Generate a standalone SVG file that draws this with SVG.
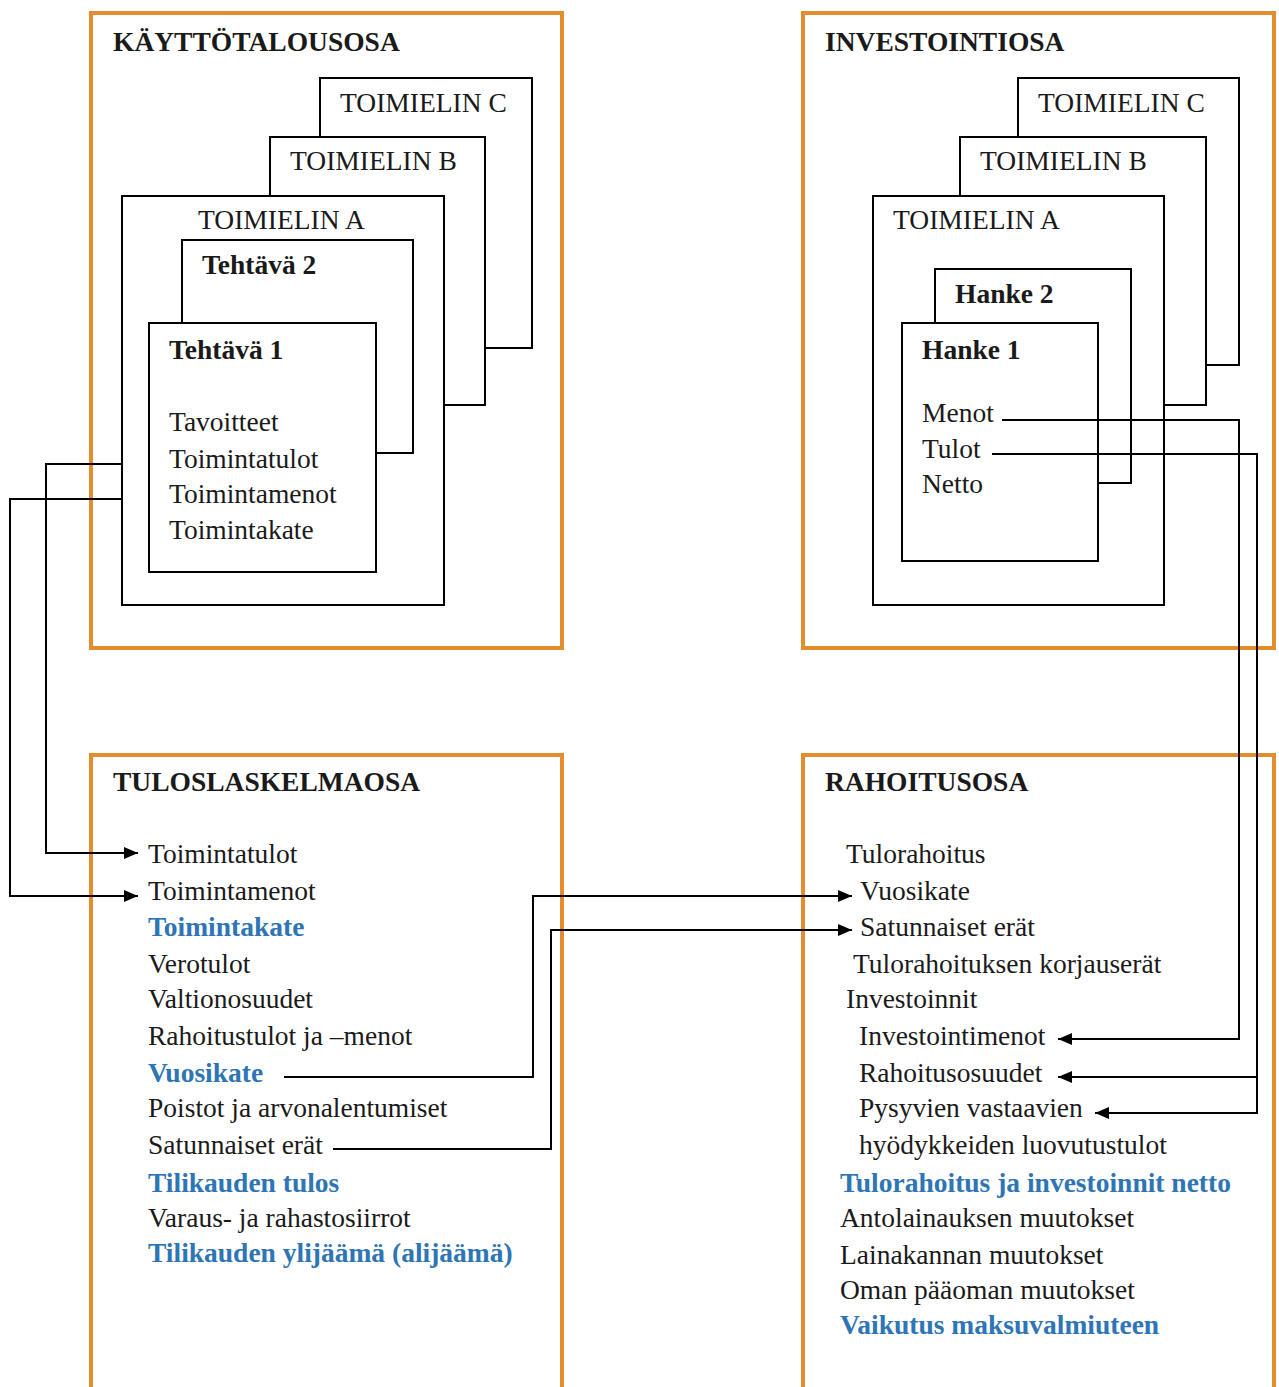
<svg xmlns="http://www.w3.org/2000/svg" width="1279" height="1387" viewBox="0 0 1279 1387">
<defs>
<style>
.sec{fill:#fff;stroke:#E38D2D;stroke-width:4}
.box{fill:#fff;stroke:#000;stroke-width:2}
text{font-family:"Liberation Serif","Times New Roman",serif;font-size:27.5px;fill:#1a1a1a}
.b{font-weight:bold}
.blue{fill:#2E75B6;font-weight:bold}
.con{fill:none;stroke:#000;stroke-width:2}
</style>
<marker id="ah" markerUnits="userSpaceOnUse" markerWidth="14" markerHeight="12" refX="14" refY="6" orient="auto"><path d="M0,0 L14,6 L0,12 z" fill="#000"/></marker>
</defs>
<rect width="1279" height="1387" fill="#fff"/>

<g id="kayttotalousosa">
<rect class="sec" x="91" y="13" width="471" height="635"/>
<text class="b" x="113" y="51">KÄYTTÖTALOUSOSA</text>
</g>
<g id="k-toimielin-c"><rect class="box" x="320" y="78" width="212" height="270"/><text x="340" y="112">TOIMIELIN C</text></g>
<g id="k-toimielin-b"><rect class="box" x="270" y="137" width="215" height="268"/><text x="290" y="170">TOIMIELIN B</text></g>
<g id="k-toimielin-a"><rect class="box" x="122" y="196" width="322" height="409"/><text x="198" y="229">TOIMIELIN A</text></g>
<g id="tehtava-2"><rect class="box" x="182" y="240" width="231" height="213"/><text class="b" x="202" y="274">Tehtävä 2</text></g>
<g id="tehtava-1"><rect class="box" x="149" y="323" width="227" height="249"/><text class="b" x="169" y="359">Tehtävä 1</text>
<text x="169" y="431">Tavoitteet</text>
<text x="169" y="468">Toimintatulot</text>
<text x="169" y="503">Toimintamenot</text>
<text x="169" y="539">Toimintakate</text>
</g>

<g id="investointiosa">
<rect class="sec" x="803" y="13" width="471" height="635"/>
<text class="b" x="825" y="51">INVESTOINTIOSA</text>
</g>
<g id="i-toimielin-c"><rect class="box" x="1018" y="78" width="221" height="287"/><text x="1038" y="112">TOIMIELIN C</text></g>
<g id="i-toimielin-b"><rect class="box" x="960" y="137" width="246" height="268"/><text x="980" y="170">TOIMIELIN B</text></g>
<g id="i-toimielin-a"><rect class="box" x="873" y="196" width="291" height="409"/><text x="893" y="229">TOIMIELIN A</text></g>
<g id="hanke-2"><rect class="box" x="935" y="269" width="196" height="214"/><text class="b" x="955" y="303">Hanke 2</text></g>
<g id="hanke-1"><rect class="box" x="902" y="323" width="196" height="238"/><text class="b" x="922" y="359">Hanke 1</text>
<text x="922" y="422">Menot</text>
<text x="922" y="458">Tulot</text>
<text x="922" y="493">Netto</text>
</g>

<g id="tuloslaskelmaosa">
<rect class="sec" x="91" y="755" width="471" height="640"/>
<text class="b" x="113" y="791">TULOSLASKELMAOSA</text>
<text x="148" y="863">Toimintatulot</text>
<text x="148" y="900">Toimintamenot</text>
<text class="blue" x="148" y="936">Toimintakate</text>
<text x="148" y="973">Verotulot</text>
<text x="148" y="1008">Valtionosuudet</text>
<text x="148" y="1045">Rahoitustulot ja –menot</text>
<text class="blue" x="148" y="1082">Vuosikate</text>
<text x="148" y="1117">Poistot ja arvonalentumiset</text>
<text x="148" y="1154">Satunnaiset erät</text>
<text class="blue" x="148" y="1192">Tilikauden tulos</text>
<text x="148" y="1227">Varaus- ja rahastosiirrot</text>
<text class="blue" x="148" y="1262">Tilikauden ylijäämä (alijäämä)</text>
</g>

<g id="rahoitusosa">
<rect class="sec" x="803" y="755" width="471" height="640"/>
<text class="b" x="825" y="791">RAHOITUSOSA</text>
<text x="846" y="863">Tulorahoitus</text>
<text x="860" y="900">Vuosikate</text>
<text x="860" y="936">Satunnaiset erät</text>
<text x="853" y="973">Tulorahoituksen korjauserät</text>
<text x="846" y="1008">Investoinnit</text>
<text x="859" y="1045">Investointimenot</text>
<text x="859" y="1082">Rahoitusosuudet</text>
<text x="859" y="1117">Pysyvien vastaavien</text>
<text x="859" y="1154">hyödykkeiden luovutustulot</text>
<text class="blue" x="840" y="1192">Tulorahoitus ja investoinnit netto</text>
<text x="840" y="1227">Antolainauksen muutokset</text>
<text x="840" y="1264">Lainakannan muutokset</text>
<text x="840" y="1299">Oman pääoman muutokset</text>
<text class="blue" x="840" y="1334">Vaikutus maksuvalmiuteen</text>
</g>

<g id="connectors">
<path class="con" d="M122,464 H46 V853 H138" marker-end="url(#ah)"/>
<path class="con" d="M122,499 H10 V896 H138" marker-end="url(#ah)"/>
<path class="con" d="M284,1077 H533 V896 H852" marker-end="url(#ah)"/>
<path class="con" d="M333,1149 H551 V930 H852" marker-end="url(#ah)"/>
<path class="con" d="M1002,420 H1239 V1039 H1058" marker-end="url(#ah)"/>
<path class="con" d="M992,454 H1257 V1113 H1095" marker-end="url(#ah)"/>
<path class="con" d="M1257,1077 H1058" marker-end="url(#ah)"/>
</g>
</svg>
